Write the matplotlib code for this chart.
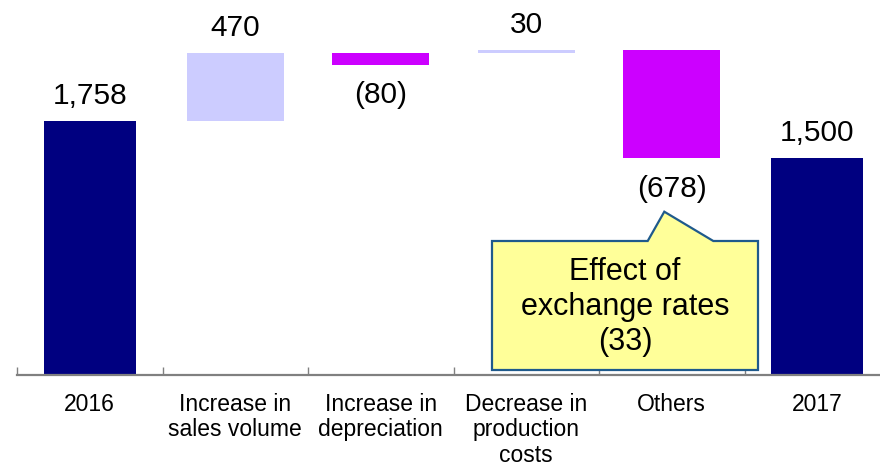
import matplotlib
matplotlib.use("Agg")
import matplotlib.pyplot as plt
from matplotlib.patches import Polygon
import numpy as np

plt.rcParams['font.family'] = ['Liberation Sans', 'DejaVu Sans']

categories = ["2016", "Increase in\nsales volume", "Increase in\ndepreciation",
              "Decrease in\nproduction\ncosts", "Others", "2017"]
values = [1758, 470, -80, 30, -678, 1500]
value_labels = ["1,758", "470", "(80)", "30", "(678)", "1,500"]
# bar extents as drawn in the original chart
bar_bottoms = [0, 1758, 2148, 2228, 1500, 0]
bar_tops = [1758, 2228, 2228, 2250, 2250, 1500]
note_text = "Effect of\nexchange rates\n(33)"

NAVY = "#000080"
LAV = "#CCCCFF"
MAG = "#CC00FF"
colors = [NAVY, LAV, MAG, LAV, MAG, NAVY]
widths = [0.63, 0.665, 0.665, 0.665, 0.665, 0.63]

W, H = 880, 467
fig = plt.figure(figsize=(W / 100, H / 100), dpi=100)
ax_left, ax_bottom = 17, 92.5
ax_right = 890
ax = fig.add_axes([ax_left / W, ax_bottom / H, (ax_right - ax_left) / W, (H - ax_bottom) / H])

px_per_unit = 0.1442
ax.set_ylim(0, (H - ax_bottom) / px_per_unit)
ax.set_xlim(-0.5, 5.5)

x = np.arange(len(categories))
heights = [t - b for t, b in zip(bar_tops, bar_bottoms)]
ax.bar(x, heights, bottom=bar_bottoms, width=widths, color=colors, edgecolor='none', zorder=2)

for xi, v, lab, b, t in zip(x, values, value_labels, bar_bottoms, bar_tops):
    if v >= 0:
        ax.annotate(lab, (xi, t), xytext=(0, 12.5), textcoords='offset points',
                    ha='center', va='baseline', fontsize=21.5, color='black')
    else:
        ax.annotate(lab, (xi, b), xytext=(0, -12), textcoords='offset points',
                    ha='center', va='top', fontsize=21.5, color='black')

# spines / ticks
for s in ['top', 'right', 'left']:
    ax.spines[s].set_visible(False)
ax.spines['bottom'].set_color('#808080')
ax.spines['bottom'].set_linewidth(1.6)
ax.set_yticks([])
ax.set_xticks(x)
ax.set_xticklabels(categories, fontsize=16.5, linespacing=1.16)
ax.tick_params(axis='x', which='major', length=0, pad=13)
ax.set_xticks(np.arange(-0.5, 6.0, 1.0), minor=True)
ax.tick_params(axis='x', which='minor', direction='in', length=6, width=1, color='#808080')

# callout
def to_data(px, py):
    return ((px - ax_left) / 145.5 - 0.5, (374.5 - py) / px_per_unit)

verts = [to_data(492, 370), to_data(758, 370), to_data(758, 241), to_data(713.3, 241),
         to_data(664.3, 211.7), to_data(647.7, 241), to_data(492, 241)]
ax.add_patch(Polygon(verts, closed=True, facecolor="#FFFF99", edgecolor="#1F5A8C",
                     linewidth=1.6, zorder=3, clip_on=False))
tx, ty = to_data(625, 307)
ax.text(tx, ty, note_text, ha='center', va='center', fontsize=22, linespacing=1.22, zorder=4)

fig.savefig("out.png", dpi=100)
